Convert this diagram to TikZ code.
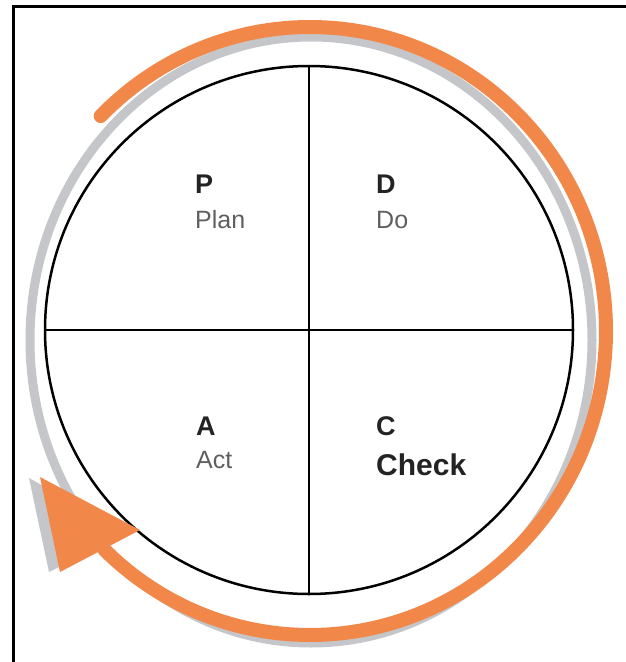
\documentclass[tikz,border=0pt]{standalone}
\usepackage{fontspec}
\setmainfont{Liberation Sans}
\usetikzlibrary{
	positioning,
	calc
}
\definecolor{PdcaOrange}{RGB}{241,135,72}
\definecolor{PdcaShadow}{RGB}{196,198,201}
\definecolor{PdcaInk}{RGB}{35,35,35}
\definecolor{PdcaGray}{RGB}{95,95,95}
\tikzset{
	letter/.style={font=\bfseries\fontsize{27}{27}\selectfont, text=PdcaInk, inner sep=0pt, anchor=base west},
	word/.style={font=\fontsize{25}{25}\selectfont, text=PdcaGray, inner sep=0pt, anchor=base west}
}

\begin{document}
\begin{tikzpicture}[x=1pt,y=-1pt]
				\useasboundingbox (0,0) rectangle (626,662);
				
				% frame
				\draw[line width=3pt] (626,6.5) -- (13.5,6.5) -- (13.5,662);
				
				% shadow ring
				\draw[PdcaShadow, line width=9pt] (311,340) ellipse [x radius=281, y radius=303];
				\fill[PdcaShadow] (29,478) -- (49,572) -- (128,533) -- cycle;
				
				% cycle
				\node[
				draw,
				circle,
				line width=2.5pt,
				minimum size=528pt,
				inner sep=0pt
				]
				(wheel) at (309,330) {};
				
				\draw[line width=2pt] (wheel.north) -- (wheel.south);
				\draw[line width=2pt] (wheel.west) -- (wheel.east);
				
				% arrow
				\coordinate (hub) at (310,331);
				\draw[PdcaOrange, line width=14pt, line cap=round]
				(hub) ++(225:296 and 304) arc[start angle=225, end angle=494, x radius=296, y radius=304];
				\fill[PdcaOrange] (40,477) -- (60,572) -- (140,530) -- cycle;
				
				% labels
				\node[letter] (P) at (195,193) {P};
				\node[word] (plan) at ([yshift=-35pt]P.base west) {Plan};
				
				\node[letter] (D) at (376,193) {D};
				\node[word] (do) at ([yshift=-35pt]D.base west) {Do};
				
				\node[letter] (A) at (196,435) {A};
				\node[word] (act) at ([yshift=-33pt]A.base west) {Act};
				
				\node[letter] (C) at (376,435) {C};
				\node[letter, font=\bfseries\fontsize{30}{30}\selectfont] (check) at ([yshift=-40pt]C.base west) {Check};
				
			\end{tikzpicture}
\end{document}
